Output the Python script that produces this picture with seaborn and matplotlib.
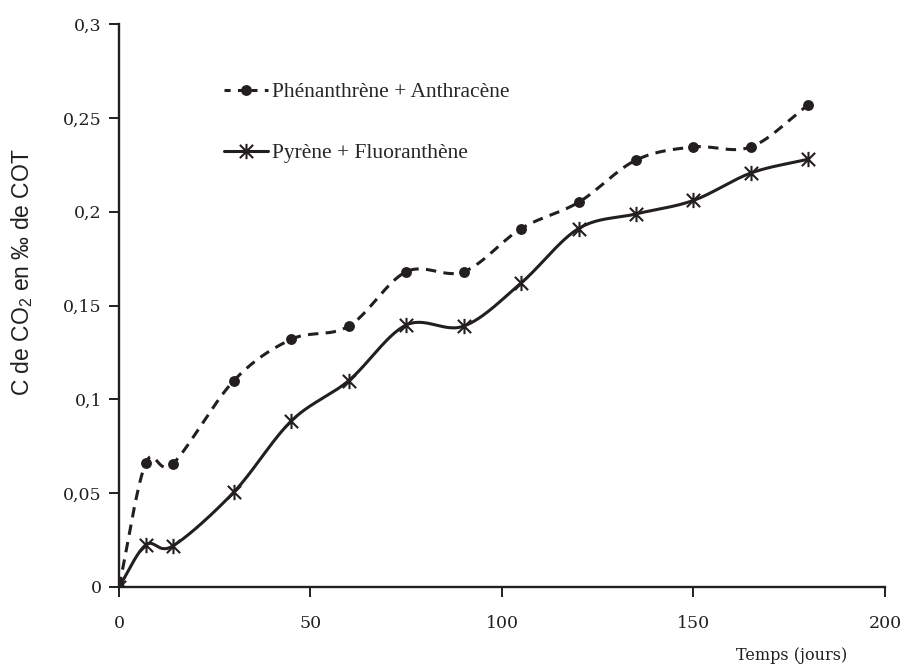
import numpy as np
import pandas as pd
import matplotlib
matplotlib.use("Agg")
import matplotlib.pyplot as plt
from matplotlib.lines import Line2D
from matplotlib.path import Path
from matplotlib.ticker import FuncFormatter
import seaborn as sns

# Incubation times (days) and mineralised carbon (C-CO2, per mille of TOC)
jours = [0, 7, 14, 30, 45, 60, 75, 90, 105, 120, 135, 150, 165, 180]
phen_anth = [0.0, 0.066, 0.0655, 0.110, 0.132, 0.139, 0.168, 0.168, 0.191,
             0.205, 0.2275, 0.2345, 0.2345, 0.257]
pyr_fluo = [0.0, 0.0224, 0.0218, 0.0506, 0.0885, 0.110, 0.1396, 0.139, 0.162,
            0.191, 0.1988, 0.206, 0.2206, 0.228]
serie_labels = ["Phénanthrène + Anthracène", "Pyrène + Fluoranthène"]
x_ticks = [0, 50, 100, 150, 200]
y_ticks = [0, 0.05, 0.1, 0.15, 0.2, 0.25, 0.3]

INK = "#231f20"

sns.set_theme(style="white")
plt.rcParams["font.family"] = ["DejaVu Serif"]
plt.rcParams["mathtext.fontset"] = "custom"
plt.rcParams["mathtext.rm"] = "Liberation Sans"
plt.rcParams["mathtext.it"] = "Liberation Sans"
plt.rcParams["mathtext.bf"] = "Liberation Sans"


def smooth_curve(x, y, n=30):
    """Catmull-Rom style smoothing used for rendering the connecting line."""
    x = np.asarray(x, float)
    y = np.asarray(y, float)
    px = np.concatenate([[2 * x[0] - x[1]], x, [2 * x[-1] - x[-2]]])
    py = np.concatenate([[2 * y[0] - y[1]], y, [2 * y[-1] - y[-2]]])
    xs, ys = [], []
    t = np.linspace(0, 1, n, endpoint=False)
    for i in range(1, len(px) - 2):
        p0, p1, p2, p3 = (np.array([px[j], py[j]]) for j in range(i - 1, i + 3))
        c1 = p1 + (p2 - p0) / 6.0
        c2 = p2 - (p3 - p1) / 6.0
        for tt in t:
            b = ((1 - tt) ** 3) * p1 + 3 * ((1 - tt) ** 2) * tt * c1 \
                + 3 * (1 - tt) * tt ** 2 * c2 + tt ** 3 * p2
            xs.append(b[0])
            ys.append(b[1])
    xs.append(x[-1])
    ys.append(y[-1])
    return np.array(xs), np.array(ys)


# Asterisk marker: an X crossed by a vertical bar
star_path = Path(
    [(-1, -1), (1, 1), (-1, 1), (1, -1), (0, -1.15), (0, 1.15)],
    [Path.MOVETO, Path.LINETO, Path.MOVETO, Path.LINETO, Path.MOVETO, Path.LINETO],
)

fig = plt.figure(figsize=(9.09, 6.65), dpi=100)
ax = fig.add_axes([0.1309, 0.1173, 0.8427, 0.8466])

sx1, sy1 = smooth_curve(jours, phen_anth)
sx2, sy2 = smooth_curve(jours, pyr_fluo)
curve1 = pd.DataFrame({"x": sx1, "y": sy1})
curve2 = pd.DataFrame({"x": sx2, "y": sy2})

sns.lineplot(data=curve1, x="x", y="y", sort=False, estimator=None,
             color=INK, lw=2.2, ax=ax, legend=False)
ax.lines[-1].set_dashes((3.4, 2.4))
sns.lineplot(data=curve2, x="x", y="y", sort=False, estimator=None,
             color=INK, lw=2.2, ax=ax, legend=False)

ax.plot(jours, phen_anth, ls="none", marker="o", ms=6.8, color=INK, zorder=4)
ax.plot(jours, pyr_fluo, ls="none", marker=star_path, ms=11, mew=1.5,
        color=INK, zorder=4, fillstyle="none")

ax.set_xlim(0, 200)
ax.set_ylim(0, 0.3)
ax.set_xticks(x_ticks)
ax.set_yticks(y_ticks)
ax.yaxis.set_major_formatter(FuncFormatter(lambda v, p: f"{v:g}".replace(".", ",")))
ax.tick_params(axis="both", direction="out", length=7, width=1.4,
               color=INK, labelcolor=INK, labelsize=12.5,
               left=True, bottom=True)
ax.tick_params(axis="y", pad=5.3)
ax.tick_params(axis="x", pad=13.5)

for side in ("top", "right"):
    ax.spines[side].set_visible(False)
for side in ("left", "bottom"):
    ax.spines[side].set_color(INK)
    ax.spines[side].set_linewidth(1.7)

ax.set_xlabel("")
ax.set_ylabel("")
fig.text(792 / 909, 1 - 655 / 665, "Temps (jours)", ha="center", va="center",
         fontsize=11.5, family=["DejaVu Serif"], color=INK)
fig.text(22 / 909, 1 - 272 / 665, "C de CO$_2$ en ‰ de COT", rotation=90,
         ha="center", va="center", fontsize=16.5,
         family=["Liberation Sans", "DejaVu Sans"], color=INK)

handles = [
    Line2D([], [], color=INK, lw=2.2, dashes=(2.0, 2.4), marker="o", ms=6.8),
    Line2D([], [], color=INK, lw=2.2, marker=star_path, ms=11, mew=1.5,
           fillstyle="none"),
]
ax.legend(handles, serie_labels, loc="upper left",
          bbox_to_anchor=(0.1365, 0.897), frameon=False, handlelength=2.05,
          handletextpad=0.2, labelspacing=1.9, borderaxespad=0,
          borderpad=0, prop={"family": "Liberation Serif", "size": 15.5})

fig.savefig("out.png", dpi=100, facecolor="white")
